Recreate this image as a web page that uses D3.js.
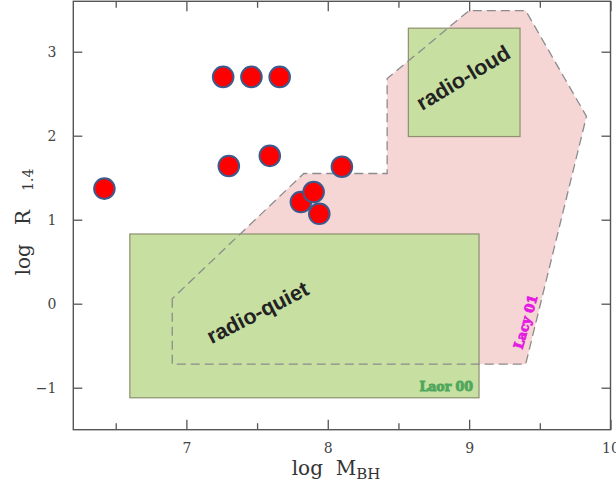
<!DOCTYPE html>
<html><head><meta charset="utf-8">
<script src="https://cdn.jsdelivr.net/npm/d3@7"></script>
<style>html,body{margin:0;padding:0;background:#fff;}svg{display:block;}</style>
</head><body>
<svg id="c" width="616" height="487"></svg>
<script>
// ---- data ----
const pointsX = [6.42, 7.26, 7.46, 7.66, 7.30, 7.59, 8.10, 7.81, 7.90, 7.94];
const pointsY = [1.37, 2.70, 2.70, 2.70, 1.64, 1.76, 1.63, 1.21, 1.33, 1.07];
const lacyX = [6.90, 6.90, 9.40, 9.83, 9.40, 9.00, 8.42, 8.42, 7.83];
const lacyY = [0.06, -0.72, -0.72, 2.23, 3.49, 3.49, 2.68, 1.55, 1.55];
const boxNames = ["radio-quiet", "radio-loud"];
const boxX0 = [6.60, 8.57];
const boxX1 = [9.07, 9.36];
const boxY0 = [-1.12, 1.99];
const boxY1 = [0.83, 3.28];
const xMajor = [7, 8, 9, 10];
const xMinor = [6.5, 7.5, 8.5, 9.5];
const yMajor = [-1, 0, 1, 2, 3];
const xTickLabels = ["7", "8", "9", "10"];
const yTickLabels = ["\u22121", "0", "1", "2", "3"];

// ---- scales ----
const L = 73.3, R = 610.5, T = 1.3, B = 429.7;
const x = d3.scaleLinear().domain([6.2, 10]).range([L, R]);
const y = d3.scaleLinear().domain([-1.5, 3.6]).range([B, T]);
const svg = d3.select("#c");

// Lacy 01 region fill
const lacyPts = lacyX.map((v, i) => [x(v), y(lacyY[i])]);
svg.append("path").attr("d", "M" + lacyPts.join("L") + "Z")
  .attr("fill", "#f6d5d5").attr("stroke", "none");

// green boxes
svg.selectAll("rect.box").data(boxNames).enter().append("rect")
  .attr("class", "box")
  .attr("x", (d, i) => x(boxX0[i]))
  .attr("y", (d, i) => y(boxY1[i]))
  .attr("width", (d, i) => x(boxX1[i]) - x(boxX0[i]))
  .attr("height", (d, i) => y(boxY0[i]) - y(boxY1[i]))
  .attr("fill", "#c7dfa1").attr("stroke", "#8d8f70").attr("stroke-width", 1.2);

// dashed outline
svg.append("path").attr("d", "M" + lacyPts.join("L") + "Z")
  .attr("fill", "none").attr("stroke", "#8c8c8c").attr("stroke-width", 1.3)
  .attr("stroke-dasharray", "9,5");

// labels
const lab = svg.append("g").attr("font-family", "'Liberation Sans', Arial, sans-serif")
  .attr("font-weight", "bold").attr("fill", "#222");
lab.append("text").attr("transform", "translate(261,319) rotate(-27)")
  .attr("text-anchor", "middle").attr("font-size", 21.5).text("radio-quiet");
lab.append("text").attr("transform", "translate(467,84) rotate(-31)")
  .attr("text-anchor", "middle").attr("font-size", 21.5).text("radio-loud");

svg.append("text").attr("x", x(9.07) - 6).attr("y", 391)
  .attr("text-anchor", "end").attr("font-family", "'DejaVu Serif', serif")
  .attr("font-weight", "bold").attr("font-size", 12.5).attr("fill", "#4fa75c")
  .attr("stroke", "#4fa75c").attr("stroke-width", 0.9)
  .text("Laor 00");
svg.append("text").attr("transform", "translate(530,323) rotate(-74)")
  .attr("text-anchor", "middle").attr("font-family", "'DejaVu Serif', serif")
  .attr("font-weight", "bold").attr("font-size", 13).attr("fill", "#e41de0")
  .attr("stroke", "#e41de0").attr("stroke-width", 0.9)
  .text("Lacy 01");

// points
svg.selectAll("circle.pt").data(pointsX).enter().append("circle")
  .attr("class", "pt")
  .attr("cx", (d) => x(d))
  .attr("cy", (d, i) => y(pointsY[i]))
  .attr("r", 10.3)
  .attr("fill", "#ff0000").attr("stroke", "#3e5a8c").attr("stroke-width", 2);

// axes (ticks inward, on all four sides)
const axB = d3.axisBottom(x).tickValues(xMajor).tickSize(-10).tickFormat((d, i) => xTickLabels[i]).tickPadding(13);
svg.append("g").attr("transform", `translate(0,${B})`).call(axB);
const axBm = d3.axisBottom(x).tickValues(xMinor).tickSize(-6.5).tickFormat("");
svg.append("g").attr("transform", `translate(0,${B})`).call(axBm);
const axT = d3.axisTop(x).tickValues(xMajor).tickSize(-10).tickFormat("");
svg.append("g").attr("transform", `translate(0,${T})`).call(axT);
const axTm = d3.axisTop(x).tickValues(xMinor).tickSize(-6.5).tickFormat("");
svg.append("g").attr("transform", `translate(0,${T})`).call(axTm);
const axLft = d3.axisLeft(y).tickValues(yMajor).tickSize(-9).tickFormat((d, i) => yTickLabels[i]).tickPadding(17);
svg.append("g").attr("transform", `translate(${L},0)`).call(axLft);
const axRt = d3.axisRight(y).tickValues(yMajor).tickSize(-9).tickFormat("");
svg.append("g").attr("transform", `translate(${R},0)`).call(axRt);

svg.selectAll(".domain").remove();
svg.selectAll(".tick line").attr("stroke", "#555").attr("stroke-width", 1.3);
svg.selectAll(".tick text").attr("font-family", "'DejaVu Serif', serif")
  .attr("font-size", 14).attr("fill", "#444");

svg.append("rect").attr("x", L).attr("y", T).attr("width", R - L).attr("height", B - T)
  .attr("fill", "none").attr("stroke", "#555").attr("stroke-width", 1.4);

// axis titles
const xt = svg.append("text").attr("x", 336).attr("y", 475).attr("text-anchor", "middle")
  .attr("font-family", "'DejaVu Serif', serif").attr("font-size", 20).attr("fill", "#333");
xt.append("tspan").text("log\u00a0\u00a0M");
xt.append("tspan").attr("dy", 4).attr("font-size", 15).text("BH");

const yt = svg.append("text").attr("transform", "translate(30,222) rotate(-90)")
  .attr("text-anchor", "middle")
  .attr("font-family", "'DejaVu Serif', serif").attr("font-size", 20).attr("fill", "#333");
yt.append("tspan").text("log\u00a0\u00a0\u00a0R\u00a0\u00a0\u00a0");
yt.append("tspan").attr("dy", 3).attr("font-size", 14).text("1.4");
</script>
</body></html>
